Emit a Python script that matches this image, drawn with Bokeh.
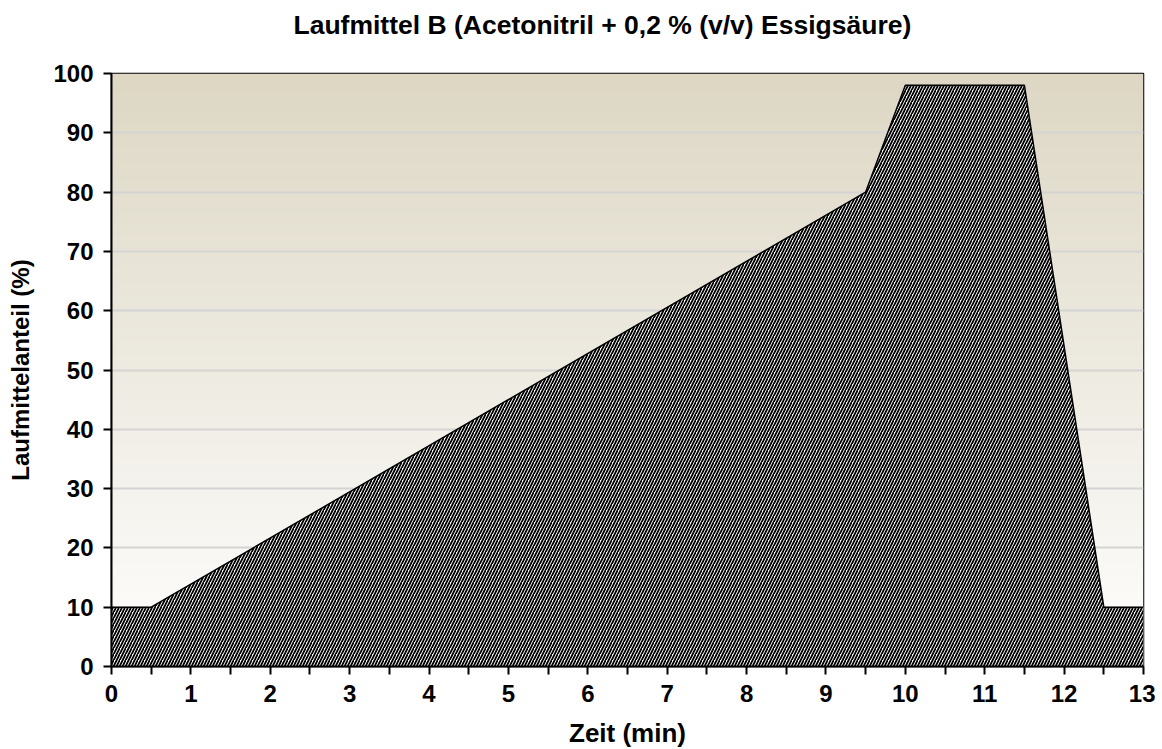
import numpy as np
from bokeh.plotting import figure
from bokeh.models import FixedTicker, Range1d, Title
from bokeh.embed import file_html
from bokeh.resources import INLINE

# data
zeit = [0, 0.5, 9.5, 10, 11.5, 12.5, 13]
anteil = [10, 10, 80, 98, 98, 10, 10]
x_ticks = list(range(0, 14))
x_minor = [i + 0.5 for i in range(0, 13)]
y_ticks = list(range(0, 101, 10))
title_text = "Laufmittel B (Acetonitril + 0,2 % (v/v) Essigsäure)"
x_label = "Zeit (min)"
y_label = "Laufmittelanteil (%)"

FONT = "Liberation Sans"

p = figure(output_backend="svg", toolbar_location=None,
           x_range=Range1d(0, 13), y_range=Range1d(0, 100),
           min_border_left=111, min_border_right=12, min_border_top=73, min_border_bottom=83,
           frame_width=1032, frame_height=593)
p.title = None
spacer = Title(text=" ", text_font=FONT, text_font_size="1px", standoff=29)
p.add_layout(spacer, "above")
t = Title(text=title_text, align="left", offset=182, text_font=FONT, text_font_size="26.5px",
          text_font_style="bold", text_color="black", standoff=4)
p.add_layout(t, "above")

# background gradient
n = 200
top = np.array([221, 215, 196], dtype=float)
bot = np.array([255, 255, 255], dtype=float)
fr = np.linspace(0, 1, n)[:, None]  # row 0 = bottom
cols = bot * (1 - fr) + top * fr
img = np.zeros((n, 1), dtype=np.uint32)
view = img.view(dtype=np.uint8).reshape((n, 1, 4))
view[:, 0, 0] = cols[:, 0].astype(np.uint8)
view[:, 0, 1] = cols[:, 1].astype(np.uint8)
view[:, 0, 2] = cols[:, 2].astype(np.uint8)
view[:, 0, 3] = 255
bg = p.image_rgba(image=[img], x=0, y=0, dw=13, dh=100)
bg.level = "image"

p.varea(x=zeit, y1=[0] * len(zeit), y2=anteil, fill_color="white",
        hatch_pattern="/", hatch_color="black", hatch_scale=6, hatch_weight=1.8)
p.line(zeit, anteil, line_color="black", line_width=1.5)

p.xgrid.visible = False
p.ygrid.grid_line_color = "#D4D4D4"
p.ygrid.grid_line_width = 2
p.ygrid.ticker = FixedTicker(ticks=y_ticks)

p.outline_line_color = "black"
p.outline_line_width = 1.5

xa = p.xaxis[0]
xa.ticker = FixedTicker(ticks=x_ticks, minor_ticks=x_minor)
xa.axis_label = x_label
ya = p.yaxis[0]
ya.ticker = FixedTicker(ticks=y_ticks)
ya.axis_label = y_label
for ax in (xa, ya):
    ax.axis_line_color = "black"
    ax.axis_line_width = 2
    ax.major_tick_line_color = "black"
    ax.major_tick_line_width = 2
    ax.major_tick_in = 0
    ax.major_tick_out = 8
    ax.minor_tick_line_color = "black"
    ax.minor_tick_line_width = 2
    ax.minor_tick_in = 0
    ax.minor_tick_out = 8
    ax.major_label_text_font = FONT
    ax.major_label_text_font_style = "bold"
    ax.major_label_text_font_size = "24px"
    ax.major_label_text_color = "black"
    ax.axis_label_text_font = FONT
    ax.axis_label_text_font_style = "bold"
    ax.axis_label_text_color = "black"
xa.axis_label_text_font_size = "26px"
ya.axis_label_text_font_size = "24px"
ya.minor_tick_line_color = None
xa.major_label_standoff = 10
ya.major_label_standoff = 10
xa.axis_label_standoff = 13
ya.axis_label_standoff = 16

open("out.html", "w").write(file_html(p, INLINE))
